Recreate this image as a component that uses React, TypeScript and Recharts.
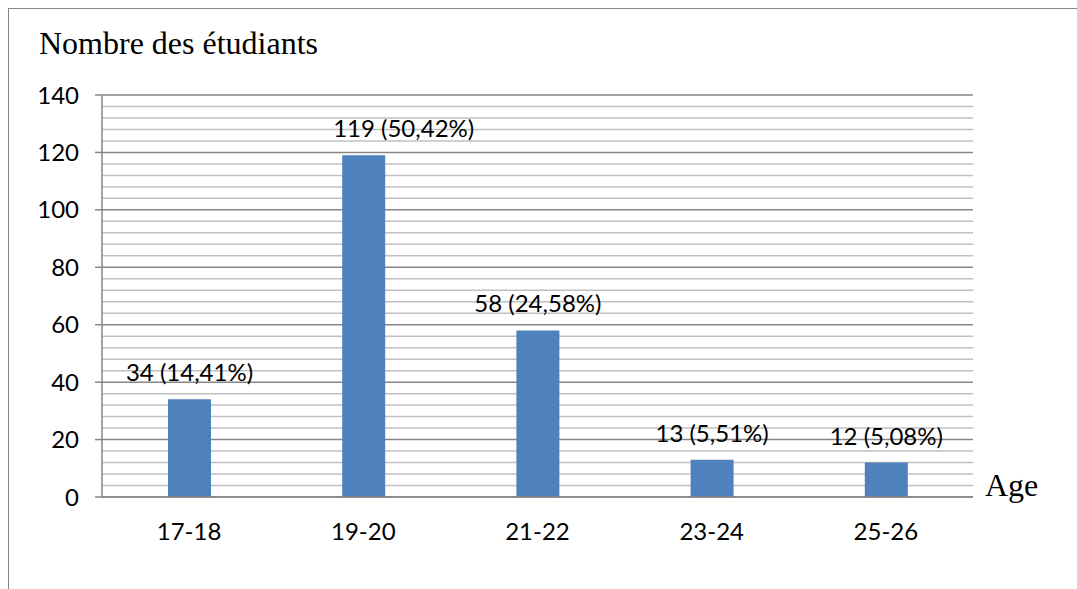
import React from "react";
import { BarChart, Bar, XAxis, YAxis, CartesianGrid, LabelList, ReferenceLine } from "recharts";

const AGES = ["17-18", "19-20", "21-22", "23-24", "25-26"];
const COUNTS = [34, 119, 58, 13, 12];
const SHARES = ["14,41%", "50,42%", "24,58%", "5,51%", "5,08%"];
const Y_TICKS = [0, 20, 40, 60, 80, 100, 120, 140];
const MINOR_TICKS = [
  4, 8, 12, 16, 24, 28, 32, 36, 44, 48, 52, 56, 64, 68, 72, 76, 84, 88, 92, 96,
  104, 108, 112, 116, 124, 128, 132, 136,
];

const W = 1077;
const H = 589;
const BAR = "#4f81bd";
const AXIS = "#868686";
const MINOR = "#c0c0c0";
const SANS = "Lato, 'Noto Sans', sans-serif";
const SERIF = "'Liberation Serif', 'Times New Roman', serif";

// the 19-20 label sits a little to the right of its bar
const LABEL_DX = [0, 40, 0, 0, 0];

const rows = AGES.map((age, i) => ({
  age,
  count: COUNTS[i],
  label: `${COUNTS[i]} (${SHARES[i]})`,
}));

function BarLabel(props: any) {
  const { x, y, width, value, index } = props;
  const dx = LABEL_DX[index] ?? 0;
  return (
    <text
      x={Number(x) + Number(width) / 2 + dx}
      y={Number(y) - 18}
      textAnchor="middle"
      fontFamily={SANS}
      fontSize={24}
      fill="#000"
    >
      {value}
    </text>
  );
}

export default function App() {
  return (
    <div style={{ position: "absolute", left: 0, top: 0, width: W, height: H, background: "#fff" }}>
      <div
        style={{
          position: "absolute",
          left: 8,
          top: 8,
          right: 0,
          bottom: 0,
          borderTop: `1.5px solid ${AXIS}`,
          borderLeft: `1.5px solid ${AXIS}`,
        }}
      />
      <BarChart
        width={W}
        height={H}
        data={rows}
        margin={{ top: 95, right: 104, bottom: 0, left: 0 }}
        style={{ position: "absolute", left: 0, top: 0 }}
      >
        <CartesianGrid vertical={false} stroke={AXIS} strokeWidth={1.5} />
        {/* light lines every 4 between the major ones */}
        {MINOR_TICKS.map((v) => (
          <ReferenceLine key={v} y={v} stroke={MINOR} strokeWidth={1.5} zIndex={-90} />
        ))}
        <XAxis
          dataKey="age"
          height={92}
          axisLine={{ stroke: AXIS, strokeWidth: 1.5 }}
          tickLine={false}
          tickSize={0}
          tickMargin={26}
          tick={{ fontFamily: SANS, fontSize: 24, fill: "#000" }}
        />
        <YAxis
          width={102}
          domain={[0, 140]}
          ticks={Y_TICKS}
          interval={0}
          axisLine={{ stroke: AXIS, strokeWidth: 1.5 }}
          tickLine={{ stroke: AXIS, strokeWidth: 1.5 }}
          tickSize={7}
          tickMargin={16}
          tick={{ fontFamily: SANS, fontSize: 24, fill: "#000" }}
        />
        <Bar dataKey="count" fill={BAR} barSize={43} isAnimationActive={false}>
          <LabelList dataKey="label" content={BarLabel} />
        </Bar>
      </BarChart>
      <svg width={W} height={H} style={{ position: "absolute", left: 0, top: 0, pointerEvents: "none" }}>
        <text x={39} y={54} fontFamily={SERIF} fontSize={32} fill="#000">
          Nombre des étudiants
        </text>
        <text x={985} y={496} fontFamily={SERIF} fontSize={32} fill="#000">
          Age
        </text>
      </svg>
    </div>
  );
}
